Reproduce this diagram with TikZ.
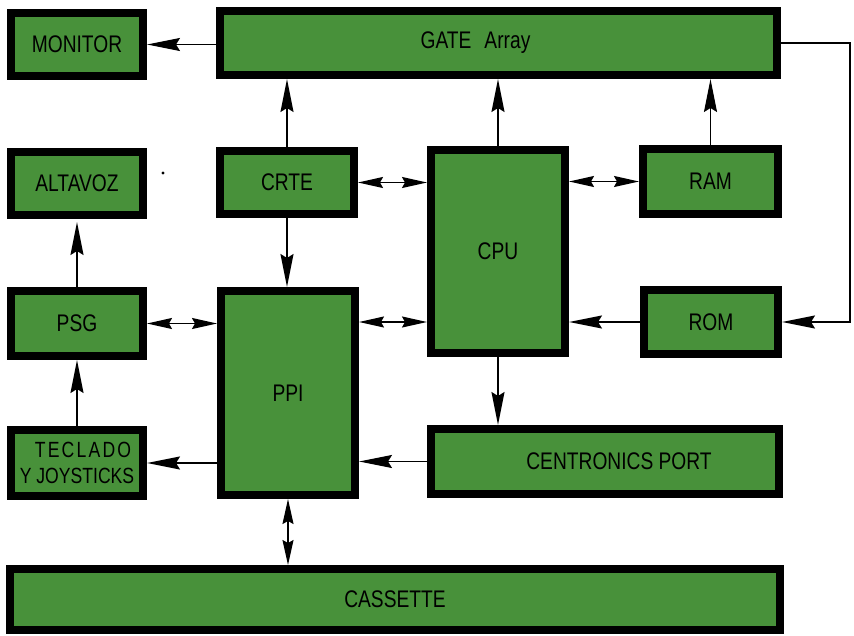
\documentclass[tikz,border=0pt]{standalone}
\usepackage{fontspec}
\setmainfont{Liberation Sans}[FakeStretch=0.8]
\usetikzlibrary{arrows.meta}
\definecolor{boxgreen}{RGB}{72,145,58}
\tikzset{
  blk/.style={draw=black, line width=8pt, fill=boxgreen, inner sep=0pt,
    font=\fontsize{24}{26}\selectfont, text=black},
  conn/.style={line width=1.4pt, draw=black},
  sarrow/.style={conn, -{Stealth[length=33pt, width=13pt, inset=4pt]}},
  darrow/.style={conn, {Stealth[length=25pt, width=11pt, inset=3pt]}-{Stealth[length=25pt, width=11pt, inset=3pt]}}
}
\begin{document}
\begin{tikzpicture}[x=1pt, y=-1pt]
\useasboundingbox (0,0) rectangle (854,635);
% boxes
\node[blk, minimum width=132pt, minimum height=63pt] (MON) at (77,44.5) {MONITOR};
\node[blk, minimum width=557pt, minimum height=64pt] (GATE) at (498.5,43) {GATE\hspace{13pt}Array\kern46pt\null};
\node[blk, minimum width=132pt, minimum height=63pt] (ALT) at (77,183.5) {ALTAVOZ};
\node[blk, minimum width=134pt, minimum height=63pt] (CRTE) at (287,182.5) {CRTE};
\node[blk, minimum width=134pt, minimum height=203pt] (CPU) at (498,251.5) {CPU};
\node[blk, minimum width=135pt, minimum height=65pt] (RAM) at (710.5,181.5) {RAM};
\node[blk, minimum width=132pt, minimum height=65pt] (PSG) at (77,323.5) {PSG};
\node[blk, minimum width=134pt, minimum height=204pt] (PPI) at (288,393) {PPI};
\node[blk, minimum width=134pt, minimum height=64pt] (ROM) at (711,322) {ROM};
\node[blk, minimum width=132pt, minimum height=66pt, align=center,
      font=\fontsize{22}{26}\selectfont] (TEC) at (77,463)
      {\hspace{12pt}{\addfontfeature{LetterSpace=10}TECLADO}\\Y JOYSTICKS};
\node[blk, minimum width=348pt, minimum height=65pt] (CEN) at (605,461.5) {\hspace{28pt}CENTRONICS PORT};
\node[blk, minimum width=770pt, minimum height=61pt] (CAS) at (395,599.5) {CASSETTE};
\coordinate (loop) at (850,0);
% connectors
\draw[sarrow] (GATE.west |- MON.east) -- (MON.east);
\draw[sarrow] (CRTE.north) -- (CRTE.north |- GATE.south);
\draw[sarrow] (CPU.north) -- (CPU.north |- GATE.south);
\draw[sarrow] (RAM.north) -- (RAM.north |- GATE.south);
\draw[sarrow] (CRTE.south) -- (CRTE.south |- PPI.north);
\draw[darrow] (CRTE.east) -- (CRTE.east -| CPU.west);
\draw[darrow] (RAM.west -| CPU.east) -- (RAM.west);
\draw[darrow] (PSG.east) -- (PSG.east -| PPI.west);
\draw[darrow] (ROM.west -| PPI.east) -- (ROM.west -| CPU.west);
\draw[sarrow] (ROM.west) -- (ROM.west -| CPU.east);
\draw[sarrow] (GATE.east) -- (GATE.east -| loop) |- (ROM.east);
\draw[sarrow] (CPU.south) -- (CPU.south |- CEN.north);
\draw[sarrow] (CEN.west) -- (CEN.west -| PPI.east);
\draw[sarrow] (TEC.east -| PPI.west) -- (TEC.east);
\draw[sarrow] (TEC.north) -- (PSG.south);
\draw[sarrow, shorten >=3pt] (PSG.north) -- (ALT.south);
\draw[darrow] (PPI.south) -- (PPI.south |- CAS.north);
% speck
\fill[black] (163,173) circle (1.6pt);
\end{tikzpicture}
\end{document}
